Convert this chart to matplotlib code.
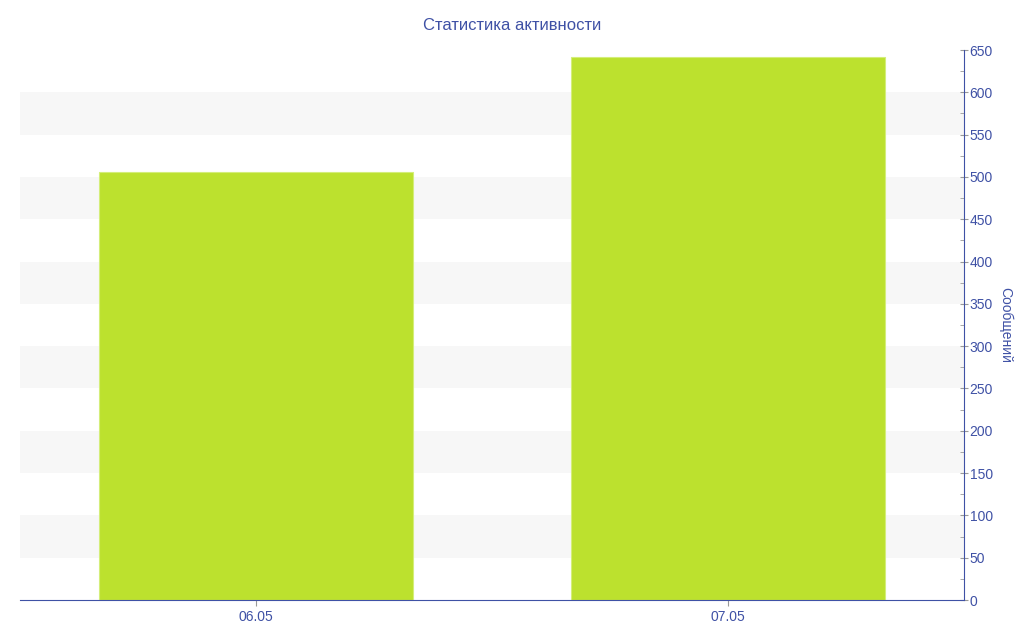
import matplotlib.pyplot as plt
from matplotlib.ticker import MultipleLocator
import numpy as np

categories = ['06.05', '07.05']
messages = [506, 642]

title = 'Статистика активности'
ylabel = 'Сообщений'
blue = '#3F51A5'

plt.rcParams['font.family'] = ['Liberation Sans', 'DejaVu Sans']

fig = plt.figure(figsize=(10.24, 6.4), dpi=100)
ax = fig.add_axes([20 / 1024, 40 / 640, 944 / 1024, 550 / 640])

x = np.arange(len(categories))
# alternating grey bands
for lo in range(50, 650, 100):
    ax.axhspan(lo, lo + 50, color='#F7F7F7', zorder=0, lw=0)

ax.bar(x, messages, width=0.667, color='#BCE12E', edgecolor='#D4EE7A', linewidth=0.8, zorder=2)

ax.set_xlim(-0.5, 1.5)
ax.set_ylim(0, 650)
ax.set_xticks(x)
ax.set_xticklabels(categories)
ax.yaxis.tick_right()
ax.yaxis.set_label_position('right')
ax.yaxis.set_major_locator(MultipleLocator(50))
ax.yaxis.set_minor_locator(MultipleLocator(25))
ax.set_ylabel(ylabel, rotation=270, labelpad=14, color=blue, fontsize=10)

for side in ['top', 'left']:
    ax.spines[side].set_visible(False)
ax.spines['right'].set_color(blue)
ax.spines['bottom'].set_color(blue)
ax.tick_params(axis='y', which='major', colors='#999999', labelcolor=blue, labelsize=10,
               length=6, direction='inout', pad=1)
ax.tick_params(axis='y', which='minor', colors='#999999', length=3, direction='in')
ax.tick_params(axis='x', colors='#999999', labelcolor=blue, labelsize=10, length=4)

fig.text(0.5, 1 - 25 / 640, title, ha='center', va='center', color=blue, fontsize=12)

fig.savefig('out.png', dpi=100, facecolor='white')
